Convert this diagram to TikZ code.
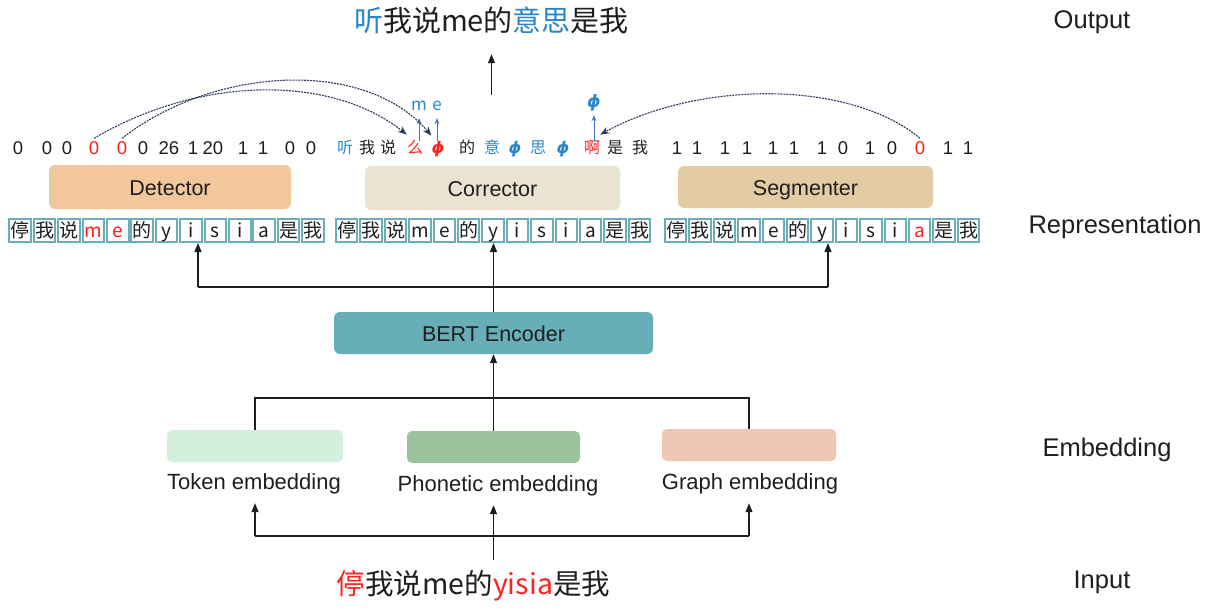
\documentclass[tikz,border=0pt]{standalone}
\usepackage{fontspec}
\setmainfont{Liberation Sans}
\newfontfamily\cjk{Noto Sans CJK SC}
\newfontfamily\greek{DejaVu Sans}
\usetikzlibrary{arrows.meta}

\definecolor{ink}{HTML}{1E1E1E}
\definecolor{hlblue}{HTML}{2A86CB}
\definecolor{hlred}{HTML}{FF2020}
\definecolor{arrowblue}{HTML}{4472C4}
\definecolor{navy}{HTML}{2C3A5C}
\definecolor{detfill}{HTML}{F2C79B}
\definecolor{corfill}{HTML}{EBE3D1}
\definecolor{segfill}{HTML}{E3CBA3}
\definecolor{bertfill}{HTML}{67AEB8}
\definecolor{tokfill}{HTML}{D3EFDD}
\definecolor{phofill}{HTML}{9BC49C}
\definecolor{grafill}{HTML}{F0C7B2}
\definecolor{cellline}{HTML}{69AFBA}

\newcommand{\phisym}{{\greek\bfseries\itshape ϕ}}

\begin{document}
\begin{tikzpicture}[x=1pt,y=-1pt,
  every node/.style={text=ink},
  module/.style={rounded corners=6pt, inner sep=0pt, font=\fontsize{21.5}{22}\selectfont,
    text height=18pt, text depth=1pt},
  embbox/.style={rounded corners=5pt, inner sep=0pt, minimum height=32pt},
  cell/.style={draw=cellline, line width=2pt, fill=white, minimum width=21.5pt,
    minimum height=23pt, inner sep=0pt, text height=16pt, text depth=2pt,
    font=\cjk\fontsize{19}{19}\selectfont},
  digit/.style={font=\fontsize{18.5}{18}\selectfont, inner sep=0pt, text height=13pt, text depth=0pt},
  hanzi/.style={font=\cjk\fontsize{16}{16}\selectfont, inner sep=0pt, text height=12.5pt, text depth=2pt},
  tag/.style={font=\cjk\fontsize{17}{17}\selectfont, text=hlblue, inner xsep=0pt, inner ysep=5pt,
    text height=11pt, text depth=3pt},
  side/.style={font=\fontsize{25.5}{26}\selectfont},
  emblabel/.style={font=\fontsize{22}{22}\selectfont, inner xsep=0pt, inner ysep=9pt,
    text height=15pt, text depth=5pt},
  link/.style={line width=1.2pt, draw=ink},
  arr/.style={link, -{Triangle[length=9pt,width=7pt]}},
  jump/.style={line width=1.1pt, draw=navy, dash pattern=on 2pt off 1pt,
    -{Stealth[length=9pt,width=7pt]}},
  lift/.style={line width=1pt, draw=arrowblue, -{Stealth[length=6pt,width=5pt]}},
]
\useasboundingbox (0,0) rectangle (1215,608);

% ---------- side labels ----------
\node[side] (lout) at (1092,22) {Output};
\node[side] (lrep) at (1115,227) {Representation};
\node[side] (lemb) at (1107,450) {Embedding};
\node[side] (linp) at (1102,582) {Input};

% ---------- output sentence ----------
\node[font=\cjk\fontsize{29}{29}\selectfont, inner xsep=0pt, inner ysep=20pt,
  text height=25pt, text depth=3pt] (out) at (491.5,20)
  {\textcolor{hlblue}{听}我说me的\textcolor{hlblue}{意思}是我};

% ---------- detector labels ----------
\foreach \n/\x/\c [count=\i] in {0/18/ink,0/47/ink,0/67/ink,0/94/hlred,0/122/hlred,
    0/143/ink,26/169/ink,1/193/ink,20/213/ink,1/243/ink,1/263/ink,0/290/ink,0/311/ink}
  \node[digit, text=\c] (d\i) at (\x,148) {\n};

% ---------- segmenter labels ----------
\foreach \n/\x/\c [count=\i] in {1/677/ink,1/697/ink,1/725/ink,1/747/ink,1/773/ink,
    1/794/ink,1/822/ink,0/843/ink,1/870/ink,0/892/ink,0/920/hlred,1/948/ink,1/968/ink}
  \node[digit, text=\c] (s\i) at (\x,148) {\n};

% ---------- corrector output ----------
\foreach \t/\x/\c [count=\i] in {听/345/hlblue,我/367/ink,说/388/ink,么/415/hlred,
    \phisym/438/hlred,的/467/ink,意/492/hlblue,\phisym/515/hlblue,思/538/hlblue,
    \phisym/563/hlblue,啊/592/hlred,是/615/ink,我/640/ink}
  \node[hanzi, text=\c] (c\i) at (\x,148) {\t};

\node[tag] (tm) at (419,106) {m};
\node[tag] (te) at (437,106) {e};
\node[tag] (tphi) at (594,103) {\phisym};

\draw[lift] (tm.south |- c4.north) -- (tm.south);
\draw[lift] (te.south |- c5.north) -- (te.south);
\draw[lift] (tphi.south |- c11.north) -- (tphi.south);

% ---------- links from detected / segmented positions ----------
\draw[jump] ([yshift=3pt]d4.north) .. controls (200,76) and (330,74) .. ([yshift=6pt]c4.north west);
\draw[jump] ([yshift=3pt]d5.north) .. controls (215,66) and (365,58) .. ([yshift=5pt]c5.north west);
\draw[jump] ([yshift=3pt]s11.north) .. controls (850,80) and (700,80) .. ([yshift=6pt]c11.north east);

% ---------- output arrow ----------
\coordinate (outfoot) at (491.5,95);
\draw[arr] (outfoot) -- (out.south);

% ---------- task modules ----------
\node[module, fill=detfill, minimum width=242pt, minimum height=44pt] (det) at (170,187) {Detector};
\node[module, fill=corfill, minimum width=255pt, minimum height=44pt] (cor) at (492.5,188) {Corrector};
\node[module, fill=segfill, minimum width=255pt, minimum height=42pt] (seg) at (805.5,187) {Segmenter};

% ---------- token representations ----------
\foreach \t/\c [count=\i] in {停/ink,我/ink,说/ink,m/hlred,e/hlred,的/ink,y/ink,i/ink,
    s/ink,i/ink,a/ink,是/ink,我/ink}
  \node[cell, text=\c] (L\i) at ({8+(\i-0.5)*24.4},230.5) {\t};
\foreach \t/\c [count=\i] in {停/ink,我/ink,说/ink,m/ink,e/ink,的/ink,y/ink,i/ink,
    s/ink,i/ink,a/ink,是/ink,我/ink}
  \node[cell, text=\c] (M\i) at ({334.5+(\i-0.5)*24.4},230.5) {\t};
\foreach \t/\c [count=\i] in {停/ink,我/ink,说/ink,m/ink,e/ink,的/ink,y/ink,i/ink,
    s/ink,i/ink,a/hlred,是/ink,我/ink}
  \node[cell, text=\c] (R\i) at ({663.5+(\i-0.5)*24.4},230.5) {\t};

% ---------- encoder ----------
\node[module, fill=bertfill, minimum width=319pt, minimum height=42pt] (bert) at (493.5,333) {BERT Encoder};

\coordinate (rl) at (198,287);
\coordinate (rr) at (828,287);
\draw[arr] (bert.north) -- (bert.north |- M7.south);
\draw[link] (rl) -- (rr);
\draw[arr] (rl) -- (rl |- L8.south);
\draw[arr] (rr) -- (rr |- R7.south);

% ---------- embeddings ----------
\node[embbox, fill=tokfill, minimum width=176pt] (tok) at (255,446) {};
\node[embbox, fill=phofill, minimum width=173pt] (pho) at (493.5,447) {};
\node[embbox, fill=grafill, minimum width=174pt] (gra) at (749,445) {};

\node[emblabel] (toklab) at (254,484) {Token embedding};
\node[emblabel] (pholab) at (498,486) {Phonetic embedding};
\node[emblabel] (gralab) at (750,484) {Graph embedding};

\coordinate (eh) at (0,398);
\draw[link] (tok.north) -- (tok.north |- eh) -- (gra.north |- eh) -- (gra.north);
\draw[arr] (pho.north) -- (bert.south);

% ---------- input ----------
\node[font=\cjk\fontsize{28.5}{28.5}\selectfont, inner xsep=0pt, inner ysep=9pt,
  text height=25pt, text depth=3pt] (inp) at (473.5,583)
  {\textcolor{hlred}{停}我说me的\textcolor{hlred}{yisia}是我};

\coordinate (ih) at (0,536);
\draw[arr] (pho.south |- inp.north) -- (pho.south |- pholab.south);
\draw[link] (tok.south |- ih) -- (gra.south |- ih);
\draw[arr] (tok.south |- ih) -- (tok.south |- toklab.south);
\draw[arr] (gra.south |- ih) -- (gra.south |- gralab.south);
\end{tikzpicture}
\end{document}
